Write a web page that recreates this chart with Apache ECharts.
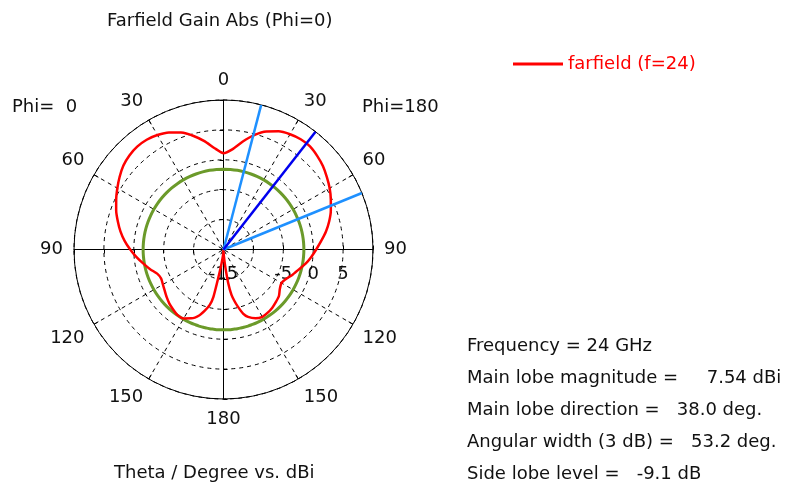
<!DOCTYPE html>
<html>
  <head>
    <meta charset="UTF-8" />
    <title>Farfield Gain Abs (Phi=0)</title>
    <script src="https://cdn.jsdelivr.net/npm/echarts@6/dist/echarts.min.js"></script>
    <style>
      html, body { margin: 0; padding: 0; background: #fff; }
      #chart { width: 797px; height: 489px; }
    </style>
  </head>
  <body>
    <div id="chart"></div>
    <script type="text/javascript">
      // theta in degrees, gain in dBi
      var theta = [0, 5, 10, 15, 20, 25, 30, 35, 40, 45, 50, 55, 60, 65, 70, 75, 80, 85, 90,
        95, 100, 105, 110, 115, 120, 125, 130, 135, 140, 145, 150, 155, 160, 163, 166, 168,
        170, 172, 174, 176, 178, 180];
      // Phi=180 half (right side)
      var gainPhi180 = [1.1, 1.8, 3.3, 4.8, 6.0, 6.8, 7.25, 7.5, 7.5, 7.15, 6.7, 6.1, 5.5, 4.8,
        4.1, 3.3, 2.4, 1.4, 0.5, -0.3, -1.1, -2.0, -2.7, -3.4, -3.8, -3.5, -2.9, -2.6, -2.3,
        -2.1, -2.0, -2.3, -3.0, -3.8, -5.2, -6.2, -7.3, -9.3, -12.0, -13.6, -14.5, -15];
      // Phi=0 half (left side)
      var gainPhi0 = [1.1, 2.0, 3.4, 4.7, 5.8, 6.6, 7.1, 7.4, 7.45, 7.25, 6.85, 6.2, 5.5, 4.8,
        4.1, 3.3, 2.5, 1.6, 0.6, -0.4, -1.4, -2.3, -3.2, -3.5, -3.3, -3.0, -2.6, -2.2, -1.9,
        -1.6, -1.7, -2.3, -3.3, -4.3, -5.4, -6.9, -10.8, -12.6, -13.6, -14.2, -14.7, -15];

      var mainLobeDir = 38.0;
      var beamEdges = [14.6, 67.8];
      var sideLobeLevel = 7.54 - 9.1;
      var gainMin = -15, gainMax = 10, gainStep = 5;
      var gainLabels = ["-15", "", "-5", "0", "5", ""];

      var infoLines = [
        "Frequency = 24 GHz",
        "Main lobe magnitude =     7.54 dBi",
        "Main lobe direction =   38.0 deg.",
        "Angular width (3 dB) =   53.2 deg.",
        "Side lobe level =   -9.1 dB",
      ];

      var font = "DejaVu Sans";
      var cx = 223.5, cy = 249.5, R = 149.5;

      // polar series data [radius, angle]; left half uses 360 - theta
      var farfield = [];
      for (var i = theta.length - 1; i >= 0; i--) farfield.push([gainPhi0[i], 360 - theta[i]]);
      for (var j = 1; j < theta.length; j++) farfield.push([gainPhi180[j], theta[j]]);

      // side lobe level circle, sampled on the same theta grid
      var sideLobeCircle = [];
      for (var m = 0; m < theta.length; m++) sideLobeCircle.push([sideLobeLevel, theta[m]]);
      for (var n2 = theta.length - 2; n2 >= 0; n2--) sideLobeCircle.push([sideLobeLevel, 360 - theta[n2]]);

      var polars = [], angleAxes = [], radiusAxes = [];
      var dirs = [90, 0, 180, 270];
      dirs.forEach(function (d, k) {
        polars.push({ center: [cx, cy], radius: R });
        angleAxes.push({
          polarIndex: k,
          type: "value",
          min: 0,
          max: 360,
          interval: 30,
          startAngle: d,
          clockwise: true,
          show: k === 0,
          axisLine: { show: k === 0, lineStyle: { color: "#000", width: 1 } },
          axisTick: { show: k === 0, inside: true, length: 5, lineStyle: { color: "#000" } },
          axisLabel: {
            show: k === 0,
            margin: 11,
            color: "#111",
            fontFamily: font,
            fontSize: 18,
            formatter: function (v) { return v <= 180 ? String(v) : String(360 - v); },
          },
          splitLine: { show: k === 0, lineStyle: { color: "#000", width: 1, type: [4, 4] } },
        });
        radiusAxes.push({
          polarIndex: k,
          type: "value",
          min: gainMin,
          max: gainMax,
          interval: gainStep,
          z: k === 1 ? 1 : 2,
          axisLine: { show: true, lineStyle: { color: "#000", width: 1 } },
          axisTick: { show: true, length: 4, lineStyle: { color: "#000" } },
          axisLabel: {
            show: k === 1,
            margin: -34,
            color: "#111",
            fontFamily: font,
            fontSize: 18,
            formatter: function (v) { return gainLabels[(v - gainMin) / gainStep]; },
          },
          splitLine: { show: k === 0, lineStyle: { color: "#000", width: 1, type: [4, 4] } },
        });
      });

      var texts = [
        { type: "text", left: 107, top: 12, style: { text: "Farfield Gain Abs (Phi=0)", font: "18px " + font, fill: "#111" } },
        { type: "text", left: 12, top: 98, style: { text: "Phi=  0", font: "18px " + font, fill: "#111" } },
        { type: "text", left: 362, top: 98, style: { text: "Phi=180", font: "18px " + font, fill: "#111" } },
        { type: "text", left: 114, top: 464, style: { text: "Theta / Degree vs. dBi", font: "18px " + font, fill: "#111" } },
      ];
      infoLines.forEach(function (t, n) {
        texts.push({ type: "text", left: 467, top: 337 + n * 32, style: { text: t, font: "18px " + font, fill: "#111" } });
      });

      var chart = echarts.init(document.getElementById("chart"));
      chart.setOption({
        animation: false,
        backgroundColor: "#fff",
        polar: polars,
        angleAxis: angleAxes,
        radiusAxis: radiusAxes,
        legend: {
          left: 508,
          top: 50,
          data: ["farfield (f=24)"],
          icon: "rect",
          itemWidth: 50,
          itemHeight: 3,
          itemGap: 10,
          textStyle: { color: "#ff0000", fontFamily: font, fontSize: 18 },
        },
        graphic: texts,
        series: [
          {
            name: "side lobe",
            type: "line",
            coordinateSystem: "polar",
            polarIndex: 0,
            data: sideLobeCircle,
            smooth: true,
            showSymbol: false,
            lineStyle: { color: "#6b9a2a", width: 3 },
            z: 3,
          },
          {
            name: "farfield (f=24)",
            type: "line",
            coordinateSystem: "polar",
            polarIndex: 0,
            data: farfield,
            smooth: 0.2,
            showSymbol: false,
            itemStyle: { color: "#ff0000" },
            lineStyle: { color: "#ff0000", width: 2.5 },
            z: 4,
          },
          {
            name: "beam1",
            type: "line",
            coordinateSystem: "polar",
            polarIndex: 0,
            data: [[gainMin, beamEdges[0]], [gainMax, beamEdges[0]]],
            showSymbol: false,
            lineStyle: { color: "#1e90ff", width: 2.5 },
            z: 5,
          },
          {
            name: "beam2",
            type: "line",
            coordinateSystem: "polar",
            polarIndex: 0,
            data: [[gainMin, beamEdges[1]], [gainMax, beamEdges[1]]],
            showSymbol: false,
            lineStyle: { color: "#1e90ff", width: 2.5 },
            z: 5,
          },
          {
            name: "main lobe",
            type: "line",
            coordinateSystem: "polar",
            polarIndex: 0,
            data: [[gainMin, mainLobeDir], [gainMax, mainLobeDir]],
            showSymbol: false,
            lineStyle: { color: "#0000ee", width: 2.5 },
            z: 6,
          },
        ],
      });
    </script>
  </body>
</html>
